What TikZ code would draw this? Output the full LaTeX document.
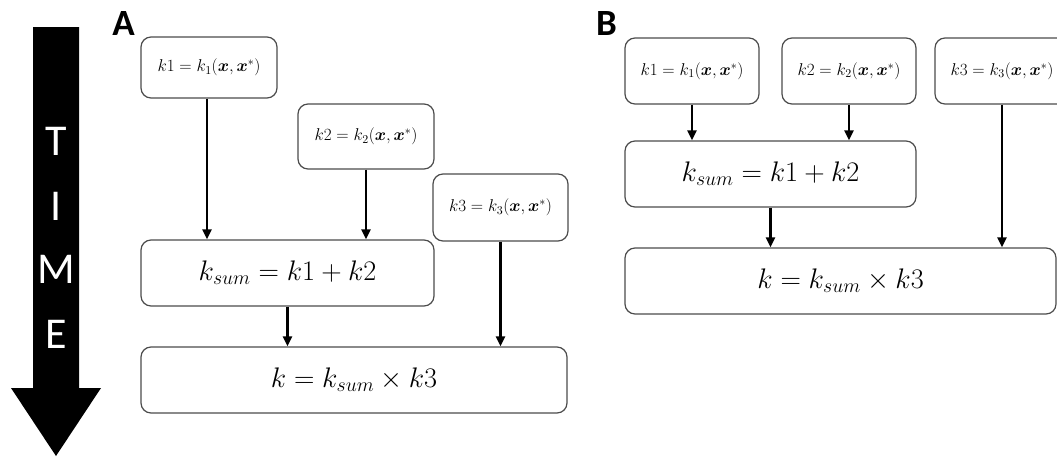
\RequirePackage{fix-cm}
\documentclass[tikz,border=0pt]{standalone}
\usepackage{bm}
\usepackage{fontspec}
\newfontfamily\calib{Carlito}
\usetikzlibrary{arrows.meta}
\tikzset{
  box/.style={draw=black!70, line width=1.2pt, rounded corners=10pt, inner sep=0pt, fill=white},
  small/.style={box, font=\fontsize{17.1}{21}\selectfont},
  large/.style={box, font=\fontsize{28.3}{33}\selectfont},
  arr/.style={line width=2.4pt, -{Triangle[length=10pt,width=9pt]}},
  timelet/.style={text=white, font=\calib\fontsize{44}{48}\selectfont, inner sep=0pt},
  panel/.style={font=\calib\bfseries\fontsize{37}{40}\selectfont, inner sep=0pt}
}
\begin{document}
\begin{tikzpicture}[x=1pt,y=-1pt]
\useasboundingbox (0,0) rectangle (1057,458);
\clip (0,0) rectangle (1057,458);
% time arrow
\fill[black] (33,27) -- (79,27) -- (79,388) -- (101,388) -- (56,456) -- (11,388) -- (33,388) -- cycle;
\node[timelet] (tT) at (56,141) {T};
\node[timelet] (tI) at (56,206) {I};
\node[timelet] (tM) at (56,269) {M};
\node[timelet] (tE) at (56,334) {E};
% panel labels
\node[panel] (labA) at (123.5,23.5) {A};
\node[panel] (labB) at (606.5,23.5) {B};
% panel A
\node[small, minimum width=136pt, minimum height=61pt] (k1A) at (209,67.5) {$k1 = k_1(\bm{x},\bm{x}^{*})$};
\node[small, minimum width=136pt, minimum height=65pt] (k2A) at (366,136.5) {$k2 = k_2(\bm{x},\bm{x}^{*})$};
\node[small, minimum width=135pt, minimum height=67pt] (k3A) at (500.5,207.5) {$k3 = k_3(\bm{x},\bm{x}^{*})$};
\node[large, minimum width=293pt, minimum height=66pt] (sumA) at (287.5,273) {$k_{sum} = k1 + k2$};
\node[large, minimum width=426pt, minimum height=66pt] (kA) at (354,380) {$k = k_{sum} \times k3$};
\draw[arr] ([xshift=-2pt]k1A.south) -- ([xshift=-2pt]k1A.south |- sumA.north);
\draw[arr] (k2A.south) -- (k2A.south |- sumA.north);
\draw[arr] (k3A.south) -- (k3A.south |- kA.north);
\draw[arr] (sumA.south) -- (sumA.south |- kA.north);
% panel B
\node[small, minimum width=134pt, minimum height=66pt] (k1B) at (692,71) {$k1 = k_1(\bm{x},\bm{x}^{*})$};
\node[small, minimum width=134pt, minimum height=66pt] (k2B) at (849,71) {$k2 = k_2(\bm{x},\bm{x}^{*})$};
\node[small, minimum width=134pt, minimum height=66pt] (k3B) at (1002,71) {$k3 = k_3(\bm{x},\bm{x}^{*})$};
\node[large, minimum width=291pt, minimum height=66pt] (sumB) at (770.5,174) {$k_{sum} = k1 + k2$};
\node[large, minimum width=431pt, minimum height=66pt] (kB) at (840.5,281) {$k = k_{sum} \times k3$};
\draw[arr] (k1B.south) -- (k1B.south |- sumB.north);
\draw[arr] (k2B.south) -- (k2B.south |- sumB.north);
\draw[arr] (k3B.south) -- (k3B.south |- kB.north);
\draw[arr] (sumB.south) -- (sumB.south |- kB.north);
\end{tikzpicture}
\end{document}
